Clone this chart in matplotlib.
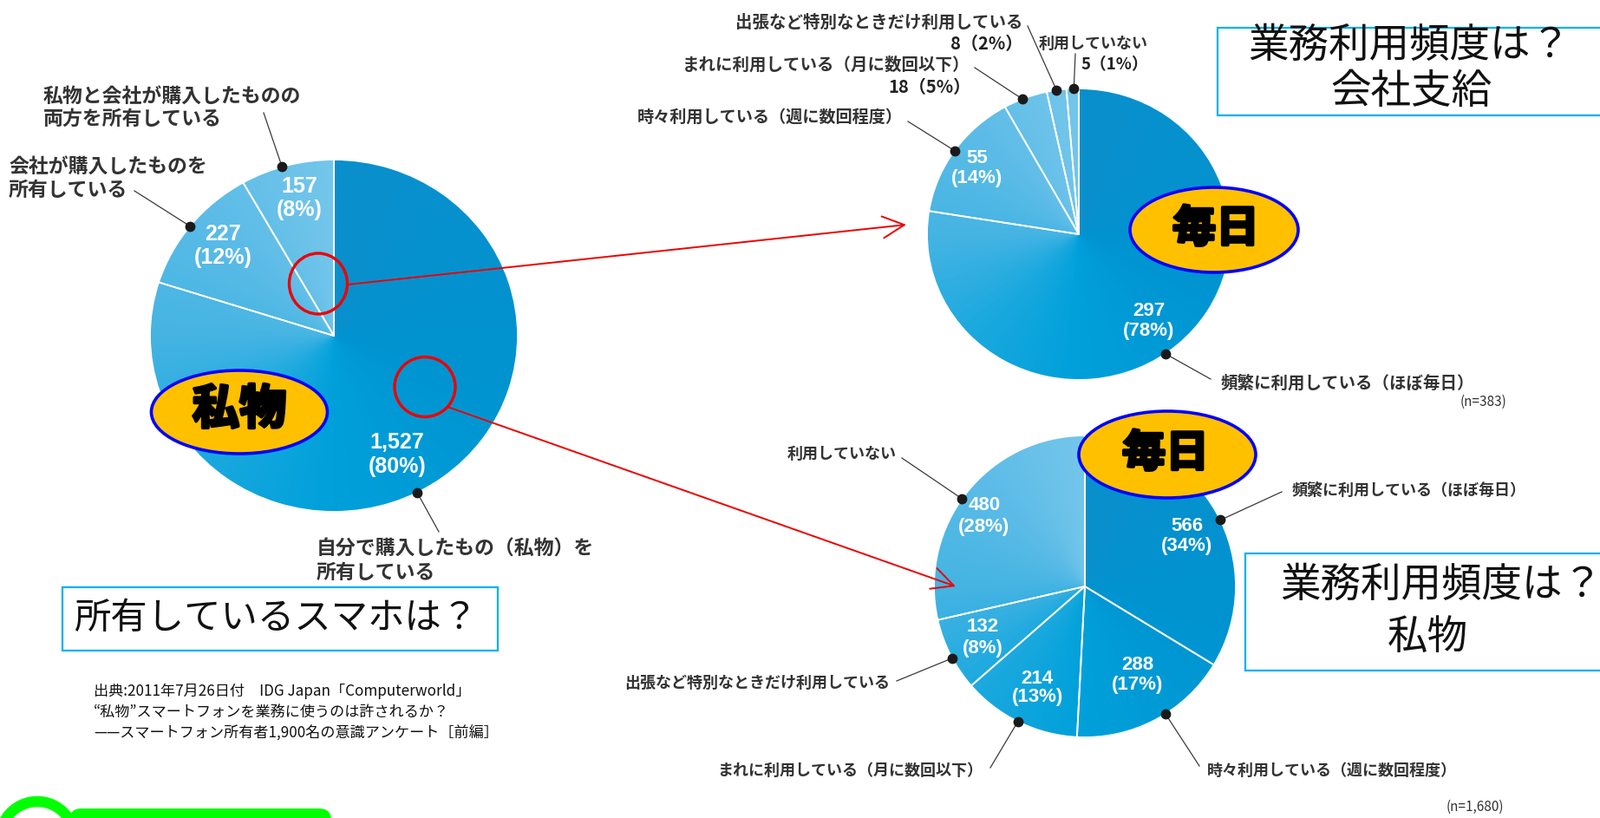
import numpy as np
import matplotlib
matplotlib.use('Agg')
import matplotlib.pyplot as plt
from matplotlib.patches import Ellipse, Rectangle, Circle, FancyBboxPatch
from matplotlib.colors import LinearSegmentedColormap
import matplotlib.patheffects as pe

W, H = 1845, 943
JP = ['Noto Sans CJK JP', 'DejaVu Sans']
NUM = ['Liberation Sans', 'DejaVu Sans']
plt.rcParams['font.family'] = JP

# ---------------- data ----------------
own_labels = ['自分で購入したもの（私物）を\n所有している',
              '会社が購入したものを\n所有している',
              '私物と会社が購入したものの\n両方を所有している']
own_values = [1527, 227, 157]
own_pct = [80, 12, 8]

use_labels = ['頻繁に利用している（ほぼ毎日）',
              '時々利用している（週に数回程度）',
              'まれに利用している（月に数回以下）',
              '出張など特別なときだけ利用している',
              '利用していない']
corp_values = [297, 55, 18, 8, 5]
corp_pct = [78, 14, 5, 2, 1]
corp_n = 383

priv_values = [566, 288, 214, 132, 480]
priv_pct = [34, 17, 13, 8, 28]
priv_n = 1680

title_own = '所有しているスマホは？'
title_corp = ['業務利用頻度は？', '会社支給']
title_priv = ['業務利用頻度は？', '私物']
badge_own = '私物'
badge_daily = '毎日'
source_lines = ['出典:2011年7月26日付　IDG Japan「Computerworld」',
                '“私物”スマートフォンを業務に使うのは許されるか？',
                '——スマートフォン所有者1,900名の意識アンケート［前編］']

# ---------------- figure ----------------
fig = plt.figure(figsize=(W / 100, H / 100), dpi=100)
ax0 = fig.add_axes([0, 0, 1, 1], zorder=5)
ax0.set_xlim(0, W)
ax0.set_ylim(H, 0)
ax0.axis('off')
ax0.patch.set_visible(False)

cmap = LinearSegmentedColormap.from_list('blue', [
    (0.0, '#0a8fcc'), (0.3, '#0094d1'), (0.5, '#00a0da'), (0.62, '#18a8de'),
    (0.75, '#45b4e3'), (0.88, '#5cbce7'), (1.0, '#74c6eb')])
N = 500
gy, gx = np.mgrid[-1:1:N * 1j, -1:1:N * 1j]
theta_grid = np.degrees(np.arctan2(gy, gx))
grad = ((90 - theta_grid) % 360) / 360.0


def draw_pie(cx, cy, rx, ry, values):
    ax = fig.add_axes([(cx - rx) / W, (H - cy - ry) / H, 2 * rx / W, 2 * ry / H], zorder=1)
    wedges, _ = ax.pie(values, startangle=90, counterclock=False, radius=1,
                       wedgeprops=dict(facecolor='none', edgecolor='white',
                                       linewidth=1.3, zorder=3))
    im = ax.imshow(grad, extent=(-1, 1, -1, 1), origin='lower', cmap=cmap,
                   vmin=0, vmax=1, aspect='auto', zorder=1, interpolation='bilinear')
    im.set_clip_path(Circle((0, 0), 1, transform=ax.transData))
    ax.set_aspect('auto')
    ax.set_xlim(-1, 1)
    ax.set_ylim(-1, 1)
    ax.axis('off')
    return wedges


def edge_point(cx, cy, rx, ry, wedge, frac):
    th = np.radians(wedge.theta1 + frac * (wedge.theta2 - wedge.theta1))
    return cx + rx * np.cos(th), cy - ry * np.sin(th)


def leader(p_dot, p_end):
    ax0.plot([p_dot[0], p_end[0]], [p_dot[1], p_end[1]], color='#3a3a3a', lw=0.9, zorder=6)
    ax0.plot(p_dot[0], p_dot[1], 'o', ms=7.5, color='#1a1a1a', zorder=7)


def label_lines(text, x, y0, gap, ha, size, color='#333333'):
    for i, line in enumerate(text.split('\n')):
        ax0.text(x, y0 + i * gap, line, ha=ha, va='center', fontsize=size,
                 color=color, fontweight='bold', family=JP, zorder=8)


def value_in(v, p, x, y1, y2, size):
    ax0.text(x, y1, f'{v:,}', ha='center', va='center', fontsize=size, color='white',
             fontweight='bold', family=NUM, zorder=8)
    ax0.text(x, y2, f'({p}%)', ha='center', va='center', fontsize=size, color='white',
             fontweight='bold', family=NUM, zorder=8)


# ---------- pie 1 : ownership ----------
G1 = (385, 387, 212, 203)
w1 = draw_pie(*G1, own_values)
own_frac = [0.468, 0.513, 0.554]
own_text = [(365, 633, 27, 'left'), (10, 193, 26, 'left'), (50, 112, 25, 'left')]
own_lead = [(506, 613), (155, 220), (304, 130)]
own_vpos = [(458, 510, 538), (257, 270, 297), (345, 215, 242)]
for i, v in enumerate(own_values):
    p = edge_point(*G1, w1[i], own_frac[i])
    leader(p, own_lead[i])
    x, y0, gap, ha = own_text[i]
    label_lines(own_labels[i], x, y0, gap, ha, 16.5)
    vx, vy1, vy2 = own_vpos[i]
    value_in(v, own_pct[i], vx, vy1, vy2, 18)

# ---------- pie 2 : corporate phones ----------
G2 = (1244, 270, 175, 168)
w2 = draw_pie(*G2, corp_values)
corp_frac = [0.48, 0.50, 0.57, 0.5, 0.4]
corp_text = [(1408, 442, 'left'), (1041, 135, 'right'), (1118, 75, 'right'),
             (1180, 26, 'right'), (1198, 50, 'left')]
corp_size = [14, 13.8, 14, 14, 13]
corp_lead = [(1396, 437), (1047, 140), (1124, 78), (1185, 30), (1240, 62)]
corp_vin = {0: (1325, 358, 382), 1: (1127, 182, 205)}
corp_vout = {2: (1120, 100), 3: (1179, 50), 4: (1324, 75)}
corp_vsize = {2: 14.5, 3: 14.5, 4: 13.5}
for i, v in enumerate(corp_values):
    p = edge_point(*G2, w2[i], corp_frac[i])
    leader(p, corp_lead[i])
    x, y, ha = corp_text[i]
    label_lines(use_labels[i], x, y, 0, ha, corp_size[i])
    if i in corp_vin:
        vx, vy1, vy2 = corp_vin[i]
        value_in(v, corp_pct[i], vx, vy1, vy2, 16)
    else:
        vx, vy = corp_vout[i]
        ax0.text(vx, vy, f'{v}（{corp_pct[i]}%）', ha='right', va='center',
                 fontsize=corp_vsize[i], color='#222222', fontweight='bold',
                 family=JP, zorder=8)
tn = ax0.text(1684, 463, f'(n={corp_n:,})', ha='left', va='center', fontsize=11,
              color='#333333', zorder=8)
tn.set_clip_path(Rectangle((1600, 440), 200, 28, transform=ax0.transData))

# ---------- pie 3 : private phones ----------
G3 = (1251, 676, 174, 174)
w3 = draw_pie(*G3, priv_values)
priv_frac = [0.473, 0.572, 0.49, 0.55, 0.53]
priv_text = [(1490, 565, 'left'), (1392, 888, 'left'), (1133, 888, 'right'),
             (1026, 787, 'right'), (1034, 523, 'right')]
priv_lead = [(1478, 567), (1383, 883), (1142, 885), (1034, 785), (1040, 528)]
priv_vpos = [(1369, 607, 630), (1312, 767, 790), (1196, 782, 804),
             (1133, 723, 747), (1135, 583, 608)]
for i, v in enumerate(priv_values):
    p = edge_point(*G3, w3[i], priv_frac[i])
    leader(p, priv_lead[i])
    x, y, ha = priv_text[i]
    label_lines(use_labels[i], x, y, 0, ha, 13)
    vx, vy1, vy2 = priv_vpos[i]
    value_in(v, priv_pct[i], vx, vy1, vy2, 16)
ax0.text(1668, 930, f'(n={priv_n:,})', ha='left', va='center', fontsize=11,
         color='#333333', zorder=8)

# ---------- badges ----------
stroke = [pe.withStroke(linewidth=2.6, foreground='black')]
for (cx, cy, ew, eh, tx, ty, txt, fs) in [(276, 475, 203, 96, 276, 473, badge_own, 39),
                                         (1400, 265, 194, 98, 1402, 264, badge_daily, 36),
                                         (1346, 524, 204, 100, 1344, 523, badge_daily, 36)]:
    ax0.add_patch(Ellipse((cx, cy), ew, eh, facecolor='#FFC000', edgecolor='#0000FF',
                          lw=2.6, zorder=9))
    ax0.text(tx, ty, txt, ha='center', va='center', fontsize=fs, fontweight='bold',
             color='black', path_effects=stroke, zorder=10)

# ---------- red circles & arrows ----------
for (cx, cy, ew, eh) in [(367, 327, 67, 70), (490, 446, 70, 69)]:
    ax0.add_patch(Ellipse((cx, cy), ew, eh, facecolor='none', edgecolor='#EE0000',
                          lw=2.4, zorder=9))
arrow_style = '->,head_length=0.9,head_width=0.45'
ax0.annotate('', xy=(1045, 259), xytext=(401, 328),
             arrowprops=dict(arrowstyle=arrow_style, color='#EE0000', lw=1.4,
                             mutation_scale=20, shrinkA=0, shrinkB=0), zorder=9)
ax0.annotate('', xy=(1102, 676), xytext=(516, 469),
             arrowprops=dict(arrowstyle=arrow_style, color='#EE0000', lw=1.4,
                             mutation_scale=20, shrinkA=0, shrinkB=0), zorder=9)

# ---------- title boxes ----------
ax0.add_patch(Rectangle((72, 677), 502, 73, facecolor='white', edgecolor='#00B0F0',
                        lw=1.6, zorder=6))
ax0.text(85, 713, title_own, ha='left', va='center', fontsize=30.5, color='#111111', zorder=7)

ax0.add_patch(Rectangle((1404, 32), 460, 101, facecolor='white', edgecolor='#00B0F0',
                        lw=1.6, zorder=6))
ax0.text(1625, 53, title_corp[0], ha='center', va='center', fontsize=33.5, color='#111111', zorder=7)
ax0.text(1627, 106, title_corp[1], ha='center', va='center', fontsize=33.5, color='#111111', zorder=7)

ax0.add_patch(Rectangle((1436, 638), 430, 135, facecolor='white', edgecolor='#00B0F0',
                        lw=1.6, zorder=6))
ax0.text(1662, 675, title_priv[0], ha='center', va='center', fontsize=33.5, color='#111111', zorder=7)
ax0.text(1646, 735, title_priv[1], ha='center', va='center', fontsize=33.5, color='#111111', zorder=7)

# ---------- source ----------
for i, line in enumerate(source_lines):
    ax0.text(108, 797 + i * 23.5, line, ha='left', va='center', fontsize=12.3,
             color='#111111', zorder=7)

# ---------- green shape at bottom-left ----------
ax0.add_patch(FancyBboxPatch((80, 932), 302, 60, boxstyle='round,pad=0,rounding_size=14',
                             facecolor='#00FF00', edgecolor='none', zorder=6))
ax0.add_patch(Circle((43, 967), 43, facecolor='white', edgecolor='#00FF00', lw=9, zorder=7))

fig.savefig('out.png', dpi=100)
